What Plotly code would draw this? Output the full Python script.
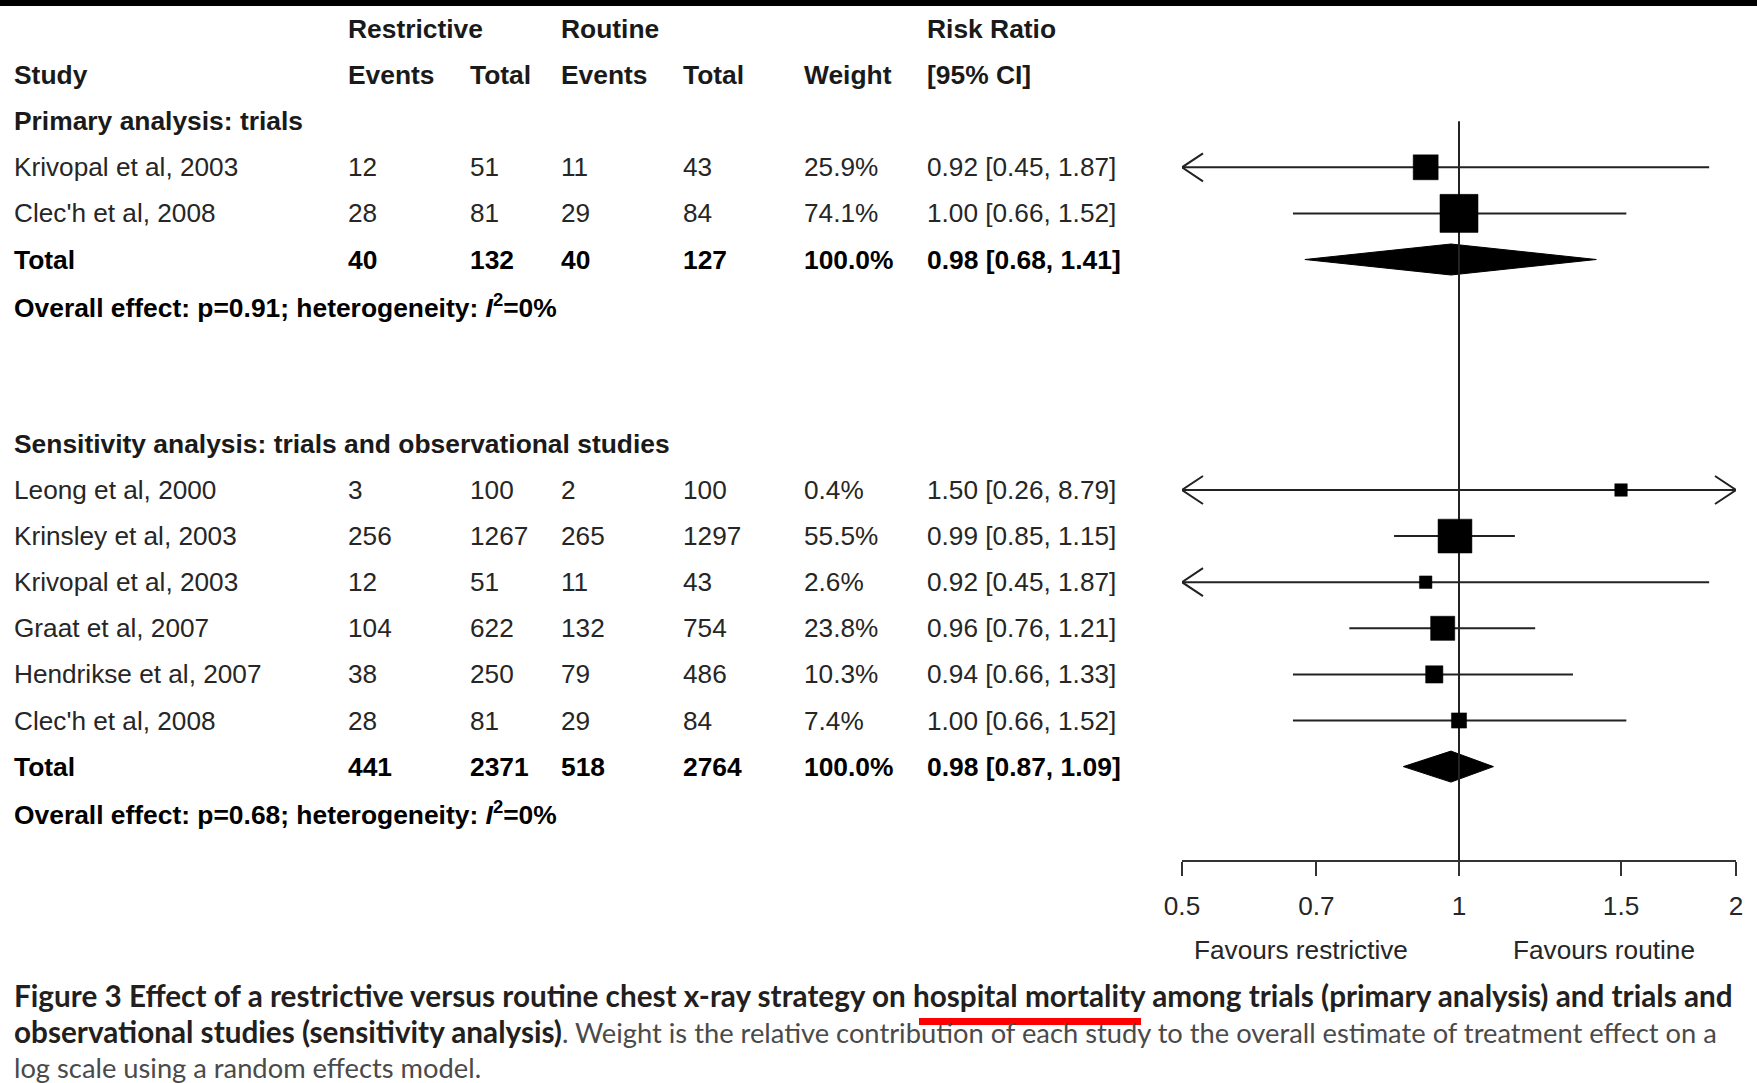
import math
import plotly.graph_objects as go

W, H = 1757, 1083

# ---------------- data ----------------
col_headers_top = ["Restrictive", "Routine", "Risk Ratio"]
col_headers = ["Study", "Events", "Total", "Events", "Total", "Weight", "[95% CI]"]

primary_title = "Primary analysis: trials"
primary_studies = ["Krivopal et al, 2003", "Clec'h et al, 2008"]
primary_r_events = [12, 28]
primary_r_total = [51, 81]
primary_c_events = [11, 29]
primary_c_total = [43, 84]
primary_weight = [25.9, 74.1]
primary_rr = [0.92, 1.00]
primary_lo = [0.45, 0.66]
primary_hi = [1.87, 1.52]
primary_sum = [40, 132, 40, 127]
primary_pooled = [0.98, 0.68, 1.41]
primary_p = "0.91"
primary_i2 = "0%"

sens_title = "Sensitivity analysis: trials and observational studies"
sens_studies = ["Leong et al, 2000", "Krinsley et al, 2003", "Krivopal et al, 2003",
                "Graat et al, 2007", "Hendrikse et al, 2007", "Clec'h et al, 2008"]
sens_r_events = [3, 256, 12, 104, 38, 28]
sens_r_total = [100, 1267, 51, 622, 250, 81]
sens_c_events = [2, 265, 11, 132, 79, 29]
sens_c_total = [100, 1297, 43, 754, 486, 84]
sens_weight = [0.4, 55.5, 2.6, 23.8, 10.3, 7.4]
sens_rr = [1.50, 0.99, 0.92, 0.96, 0.94, 1.00]
sens_lo = [0.26, 0.85, 0.45, 0.76, 0.66, 0.66]
sens_hi = [8.79, 1.15, 1.87, 1.21, 1.33, 1.52]
sens_sum = [441, 2371, 518, 2764]
sens_pooled = [0.98, 0.87, 1.09]
sens_p = "0.68"
sens_i2 = "0%"

tick_vals = [0.5, 0.7, 1, 1.5, 2]
tick_text = ["0.5", "0.7", "1", "1.5", "2"]
x_min, x_max = 0.5, 2.0
favours = ["Favours restrictive", "Favours routine"]

REG = "<span style='font-weight:normal;font-size:27.3px;color:#4a4a4a'>"
caption = [
    "<b>Figure 3 Effect of a restrictive versus routine chest x-ray strategy on hospital mortality among trials (primary analysis) and trials and</b>",
    "<b>observational studies (sensitivity analysis)</b>" + REG + ". Weight is the relative contribution of each study to the overall estimate of treatment effect on a</span>",
    REG + "log scale using a random effects model.</span>",
]

# ---------------- layout constants (pixels) ----------------
ROW0, ROWH = 29.0, 46.1
col_x = [13, 347, 469, 560, 682, 803, 926]
ax_left, ax_right = 1182, 1736
FONT = "Liberation Sans, Arial, sans-serif"
FS, FSB = 26.2, 26.4
INK = "#1a1a1a"


def row_of_px(px):
    return (px - ROW0) / ROWH


fig = go.Figure()
ann = []


def txt(xpx, row, text, bold=False, color=INK):
    ann.append(dict(x=xpx / W, xref="paper", y=row, yref="y", text=(f"<b>{text}</b>" if bold else text),
                    showarrow=False, xanchor="left", yanchor="middle", borderpad=0,
                    font=dict(family=FONT, size=(FSB if bold else FS), color=color)))


# headers
txt(col_x[1], 0, col_headers_top[0], True)
txt(col_x[3], 0, col_headers_top[1], True)
txt(col_x[6], 0, col_headers_top[2], True)
for cx, h in zip(col_x, col_headers):
    txt(cx, 1, h, True)

dpp = math.log10(x_max / x_min) / (ax_right - ax_left)  # decades per pixel
arm_f = 10 ** (21 * dpp)
arm_dy = 14 / ROWH
diamond_half = 15.5 / ROWH

line_x, line_y = [], []
box_x, box_y, box_s = [], [], []


def add_section(start, title, studies, re, rt, ce, ct, wt, rr, lo, hi, sums, pooled, p, i2):
    txt(col_x[0], start, title, True)
    for i, s in enumerate(studies):
        r = start + 1 + i
        vals = [s, re[i], rt[i], ce[i], ct[i], f"{wt[i]:.1f}%", f"{rr[i]:.2f} [{lo[i]:.2f}, {hi[i]:.2f}]"]
        for cx, v in zip(col_x, vals):
            txt(cx, r, str(v), False, "#262626")
        a, b = max(lo[i], x_min), min(hi[i], x_max)
        line_x.extend([a, b, None]); line_y.extend([r, r, None])
        if lo[i] < x_min:
            line_x.extend([x_min * arm_f, x_min, x_min * arm_f, None])
            line_y.extend([r - arm_dy, r, r + arm_dy, None])
        if hi[i] > x_max:
            line_x.extend([x_max / arm_f, x_max, x_max / arm_f, None])
            line_y.extend([r - arm_dy, r, r + arm_dy, None])
        box_x.append(rr[i]); box_y.append(r)
        box_s.append(max(12.5, 6.8 * wt[i] ** 0.4))
    tr = start + 1 + len(studies)
    vals = ["Total", sums[0], sums[1], sums[2], sums[3], "100.0%",
            f"{pooled[0]:.2f} [{pooled[1]:.2f}, {pooled[2]:.2f}]"]
    for cx, v in zip(col_x, vals):
        txt(cx, tr, str(v), True, "#000")
    txt(col_x[0], tr + 1, f"Overall effect: p={p}; heterogeneity: <i>I</i><sup>2</sup>={i2}", True, "#000")
    fig.add_trace(go.Scatter(
        x=[pooled[1], pooled[0], pooled[2], pooled[0], pooled[1]],
        y=[tr, tr - diamond_half, tr, tr + diamond_half, tr],
        mode="lines", fill="toself", fillcolor="black", line=dict(color="black", width=1),
        hoverinfo="skip", showlegend=False, cliponaxis=False))


add_section(2, primary_title, primary_studies, primary_r_events, primary_r_total, primary_c_events,
            primary_c_total, primary_weight, primary_rr, primary_lo, primary_hi, primary_sum,
            primary_pooled, primary_p, primary_i2)
add_section(9, sens_title, sens_studies, sens_r_events, sens_r_total, sens_c_events,
            sens_c_total, sens_weight, sens_rr, sens_lo, sens_hi, sens_sum,
            sens_pooled, sens_p, sens_i2)

axis_row = row_of_px(861)

# reference line at RR = 1
fig.add_trace(go.Scatter(x=[1, 1], y=[2, axis_row], mode="lines", line=dict(color="#222", width=2),
                         hoverinfo="skip", showlegend=False, cliponaxis=False))
fig.add_trace(go.Scatter(x=line_x, y=line_y, mode="lines", line=dict(color="#222", width=2),
                         hoverinfo="skip", showlegend=False, cliponaxis=False))
fig.add_trace(go.Scatter(x=box_x, y=box_y, mode="markers",
                         marker=dict(symbol="square", size=box_s, color="#000000", opacity=1,
                                     line=dict(width=0.5, color="#000000")),
                         opacity=1, hoverinfo="skip", showlegend=False, cliponaxis=False))

# favours labels
fav_row = row_of_px(950)
txt(1193, fav_row, favours[0], False, "#262626")
txt(1512, fav_row, favours[1], False, "#262626")

# caption
for ypx, line in zip([995, 1031, 1067], caption):
    ann.append(dict(x=13 / W, xref="paper", y=1 - ypx / H, yref="paper", text=line, showarrow=False,
                    xanchor="left", yanchor="middle", borderpad=0,
                    font=dict(family="Lato, Open Sans, sans-serif", size=29.7, color="#231f20")))

shapes = [
    dict(type="rect", xref="paper", yref="paper", x0=0, x1=1, y0=1 - 6 / H, y1=1,
         fillcolor="black", line=dict(width=0)),
    dict(type="rect", xref="paper", yref="paper", x0=919 / W, x1=1141 / W,
         y0=1 - 1025 / H, y1=1 - 1018 / H, fillcolor="#ff0000", line=dict(width=0)),
]

fig.update_layout(
    width=W, height=H, margin=dict(l=0, r=0, t=0, b=0, pad=0, autoexpand=False),
    paper_bgcolor="white", plot_bgcolor="rgba(0,0,0,0)",
    annotations=ann, shapes=shapes, showlegend=False,
    xaxis=dict(type="log", range=[math.log10(x_min), math.log10(x_max)],
               domain=[ax_left / W, ax_right / W], anchor="free", position=(H - 861) / H,
               showline=True, linecolor="#333", linewidth=2, ticks="outside", ticklen=14,
               tickwidth=2, tickcolor="#333", tickvals=tick_vals, ticktext=tick_text,
               tickfont=dict(family=FONT, size=FS, color="#262626"), ticklabelstandoff=8,
               showgrid=False, zeroline=False, fixedrange=True, automargin=False),
    yaxis=dict(range=[(H - ROW0) / ROWH, -ROW0 / ROWH], domain=[0, 1], visible=False,
               showgrid=False, zeroline=False, fixedrange=True, automargin=False),
)

fig.write_html("out.html", config={"displayModeBar": False},
               post_script="document.body.style.margin='0px';document.body.style.overflow='hidden';")
